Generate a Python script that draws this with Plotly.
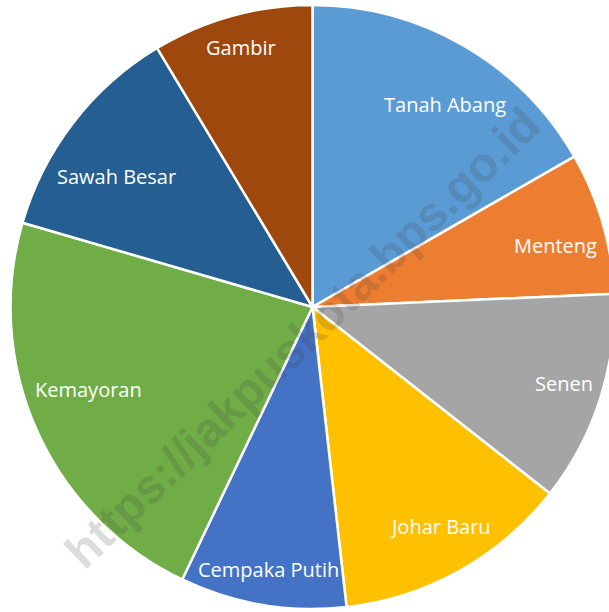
import math
import plotly.graph_objects as go

# Data (share of Jakarta Pusat by kecamatan, %)
labels = ["Tanah Abang", "Menteng", "Senen", "Johar Baru",
          "Cempaka Putih", "Kemayoran", "Sawah Besar", "Gambir"]
values = [16.7, 7.6, 11.3, 12.6, 8.9, 22.4, 11.9, 8.6]

# Styles
colors = ["#5B9BD5", "#ED7D31", "#A5A5A5", "#FFC000",
          "#4472C4", "#70AD47", "#255E91", "#9E480E"]
label_r = [0.80, 0.83, 0.87, 0.84, 0.88, 0.79, 0.78, 0.89]
label_da = [3, 2, -1, -1, 0, 4, -4, 0]

W, H = 615, 612
ML, MR, MT, MB = 10, 0, 5, 3

fig = go.Figure(go.Pie(
    labels=labels, values=values, sort=False, direction="clockwise",
    rotation=0, marker=dict(colors=colors, line=dict(color="white", width=2.5)),
    textinfo="none", hoverinfo="label+percent", showlegend=False,
))

annotations = []
# watermark
annotations.append(dict(
    text="https://jakpuskota.bps.go.id", x=0.484, y=0.449, xref="paper", yref="paper",
    showarrow=False, textangle=-44,
    font=dict(family="Liberation Sans", size=48, color="rgba(60,60,60,0.18)", weight="bold"),
))

total = sum(values)
cum = 0.0
for i, (lab, v) in enumerate(zip(labels, values)):
    mid = (cum + v / 2) / total * 360 + label_da[i]
    cum += v
    th = math.radians(mid)
    x = 0.5 + label_r[i] * math.sin(th) / 2
    y = 0.5 + label_r[i] * math.cos(th) / 2
    annotations.append(dict(
        text=lab, x=x, y=y, xref="paper", yref="paper", showarrow=False,
        xanchor="center", yanchor="middle",
        font=dict(family="Open Sans", size=20, color="white"),
    ))

fig.update_layout(
    width=W, height=H, margin=dict(l=ML, r=MR, t=MT, b=MB),
    paper_bgcolor="white", plot_bgcolor="white",
    annotations=annotations,
)

fig.write_html("out.html", config={"displayModeBar": False},
               post_script="document.body.style.margin='0';document.body.style.overflow='hidden';")
